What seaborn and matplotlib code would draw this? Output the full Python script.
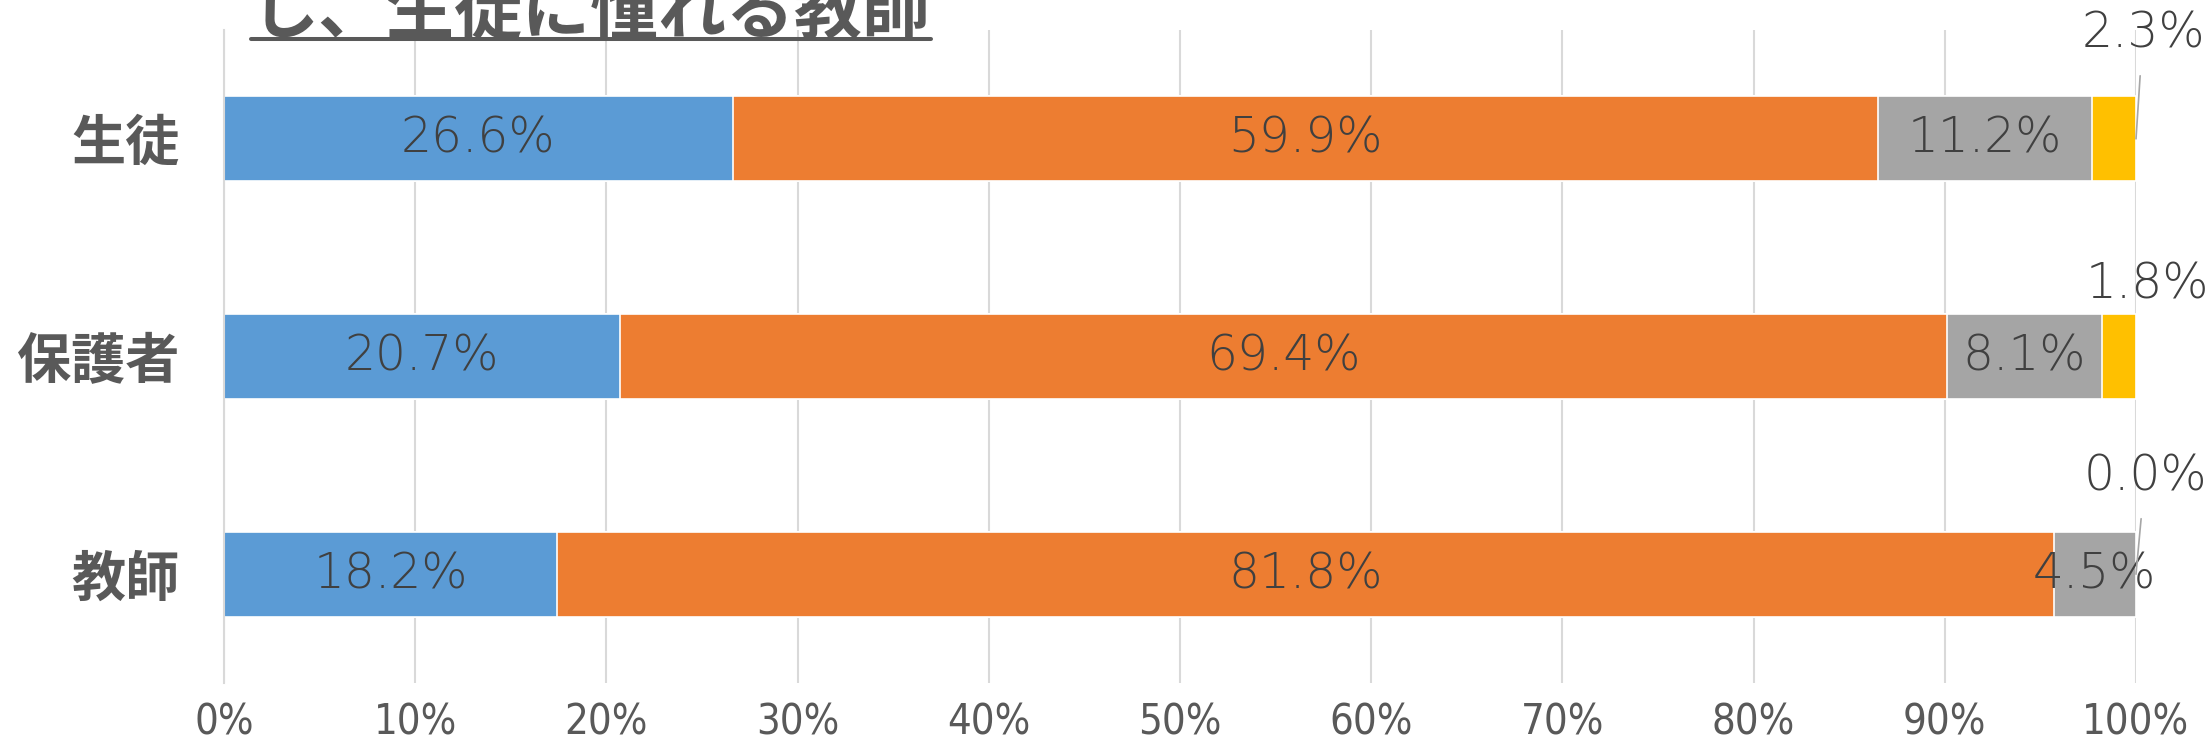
import pandas as pd
import matplotlib.pyplot as plt
import seaborn as sns
from matplotlib.lines import Line2D

# Chart data
groups = ['生徒', '保護者', '教師']
very_much = [26.6, 20.7, 18.2]
somewhat = [59.9, 69.4, 81.8]
not_much = [11.2, 8.1, 4.5]
not_at_all = [2.3, 1.8, 0.0]
series_names = ['s1', 's2', 's3', 's4']
series_colors = ['#5B9BD5', '#ED7D31', '#A5A5A5', '#FFC000']
title_text = 'し、生徒に憧れる教師'
xtick_values = [0, 10, 20, 30, 40, 50, 60, 70, 80, 90, 100]
xtick_labels = [f'{v}%' for v in xtick_values]

sns.set_style('white')
plt.rcParams['font.family'] = ['Noto Sans CJK JP', 'DejaVu Sans']

raw = pd.DataFrame({'group': groups, 's1': very_much, 's2': somewhat,
                    's3': not_much, 's4': not_at_all})
# 100% stacked: each row is scaled to its own total
share = raw[series_names].div(raw[series_names].sum(axis=1), axis=0) * 100
cum = share.cumsum(axis=1)

fig = plt.figure(figsize=(22.11, 7.40), dpi=100)
ax = fig.add_axes([224 / 2211, 57 / 740, 1912 / 2211, 653 / 740])

# draw longest first so the shorter stacks sit on top
for i in reversed(range(len(series_names))):
    sns.barplot(x=cum[series_names[i]], y=raw['group'], orient='h',
                color=series_colors[i], saturation=1, width=0.39,
                edgecolor='white', linewidth=1.2, ax=ax)

# labels inside the segments
for r in range(len(groups)):
    for j in range(3):
        v = raw[series_names[j]][r]
        centre = cum[series_names[j]][r] - share[series_names[j]][r] / 2
        ax.text(centre, r, f'{v:.1f}%', ha='center', va='center',
                fontsize=35, color='#404040', family='DejaVu Sans',
                fontweight='light')

# small last segment: label outside with a leader line
offsets = [(5, 76), (8, 52), (6.5, 70.5)]
leader = [True, False, True]
for r in range(len(groups)):
    v = raw['s4'][r]
    props = dict(arrowstyle='-', color='#A6A6A6', lw=1.2, shrinkA=11, shrinkB=0) if leader[r] else None
    ax.annotate(f'{v:.1f}%', xy=(cum['s4'][r], r), xytext=offsets[r],
                textcoords='offset points', ha='center', va='center',
                fontsize=35, color='#404040', family='DejaVu Sans',
                fontweight='light', arrowprops=props, annotation_clip=False)

ax.set_xlim(0, 100)
ax.set_xticks(xtick_values)
ax.set_xticklabels(xtick_labels, family='DejaVu Sans', fontstretch='condensed')
ax.set_xlabel('')
ax.set_ylabel('')
ax.tick_params(axis='x', length=0, pad=13, labelsize=30, labelcolor='#595959')
ax.tick_params(axis='y', length=0, pad=32, labelsize=39, labelcolor='#595959')
for lab in ax.get_yticklabels():
    lab.set_fontweight('bold')

ax.grid(axis='x', color='#D9D9D9', linewidth=1.5)
ax.set_axisbelow(True)
for side in ['top', 'right', 'bottom']:
    ax.spines[side].set_visible(False)
ax.spines['left'].set_color('#D9D9D9')
ax.spines['left'].set_linewidth(1.5)

# title, cut off at the top edge, underlined
title = fig.text(251 / 2211, 1 - 33 / 740, title_text, fontsize=49,
                 fontweight='bold', color='#595959', va='baseline',
                 family='Noto Sans CJK JP')
fig.canvas.draw()
bb = title.get_window_extent()
W, H = fig.bbox.width, fig.bbox.height
y_line = (740 - 39) / 740
fig.add_artist(Line2D([bb.x0 / W, bb.x1 / W], [y_line, y_line],
                      transform=fig.transFigure, color='#595959', lw=2.9))

fig.savefig('out.png', dpi=100)
